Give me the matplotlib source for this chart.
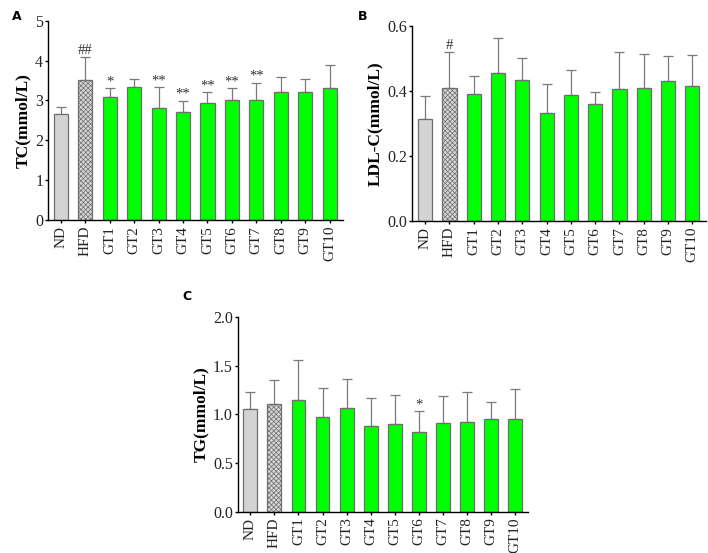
import matplotlib.pyplot as plt
import numpy as np

plt.rcParams['font.family'] = ['Liberation Serif', 'DejaVu Serif']
plt.rcParams['hatch.color'] = '#a8a8a8'
plt.rcParams['hatch.linewidth'] = 0.5

groups = ['ND', 'HFD', 'GT1', 'GT2', 'GT3', 'GT4', 'GT5', 'GT6', 'GT7', 'GT8', 'GT9', 'GT10']

tc_mean = [2.65, 3.51, 3.08, 3.34, 2.81, 2.70, 2.94, 3.01, 3.00, 3.20, 3.21, 3.30]
tc_top = [2.83, 4.08, 3.30, 3.54, 3.33, 2.99, 3.20, 3.30, 3.44, 3.60, 3.55, 3.88]
tc_marks = ['', '##', '*', '', '**', '**', '**', '**', '**', '', '', '']

ldl_mean = [0.314, 0.408, 0.391, 0.456, 0.433, 0.332, 0.389, 0.360, 0.406, 0.408, 0.430, 0.416]
ldl_top = [0.386, 0.519, 0.445, 0.562, 0.501, 0.421, 0.464, 0.396, 0.519, 0.513, 0.508, 0.511]
ldl_marks = ['', '#', '', '', '', '', '', '', '', '', '', '']

tg_mean = [1.051, 1.102, 1.143, 0.969, 1.068, 0.884, 0.898, 0.816, 0.911, 0.918, 0.949, 0.949]
tg_top = [1.232, 1.348, 1.560, 1.273, 1.358, 1.171, 1.195, 1.031, 1.184, 1.229, 1.123, 1.256]
tg_marks = ['', '', '', '', '', '', '', '*', '', '', '', '']


def draw_panel(ax, means, tops, marks, ylabel, ymax, yticks, fmt, mark_pad):
    x = np.arange(len(groups))
    err = np.array(tops) - np.array(means)
    face = ['#d3d3d3', '#d6d6d6'] + ['#00ff00'] * (len(groups) - 2)
    bars = ax.bar(x, means, width=0.58, color=face, edgecolor='#6e6e6e', linewidth=0.9, zorder=2)
    bars[1].set_hatch('xxxxxxx')
    ax.errorbar(x, means, yerr=[np.zeros_like(err), err], fmt='none', ecolor='#7a7a7a',
                elinewidth=0.9, capsize=3.5, capthick=0.9, zorder=1)
    for xi, top, m in zip(x, tops, marks):
        if m:
            ax.text(xi, top + mark_pad, m, ha='center', va='bottom', fontsize=10.5, color='#333333')
    ax.set_xlim(-0.53, 11.55)
    ax.set_ylim(0, ymax)
    ax.set_yticks(yticks)
    ax.set_yticklabels([fmt.format(v) for v in yticks], fontsize=11.5, color='#222222')
    ax.set_xticks(x)
    ax.set_xticklabels(groups, rotation=90, fontsize=11, color='#222222')
    ax.set_ylabel(ylabel, fontsize=12.5, fontweight='bold', labelpad=3)
    ax.spines['top'].set_visible(False)
    ax.spines['right'].set_visible(False)
    ax.spines['left'].set_linewidth(1.0)
    ax.spines['bottom'].set_linewidth(1.0)
    ax.tick_params(axis='y', length=2.5, width=1.0, pad=1)
    ax.tick_params(axis='x', length=2, width=1.0, pad=2)


fig = plt.figure(figsize=(7.08, 5.53), dpi=100)

ax_a = fig.add_axes([0.0678, 0.602, 0.4167, 0.3606])
draw_panel(ax_a, tc_mean, tc_top, tc_marks, 'TC(mmol/L)', 5, [0, 1, 2, 3, 4, 5], '{:g}', 0.0)

ax_b = fig.add_axes([0.5824, 0.5998, 0.4143, 0.3532])
draw_panel(ax_b, ldl_mean, ldl_top, ldl_marks, 'LDL-C(mmol/L)', 0.6, [0, 0.2, 0.4, 0.6], '{:.1f}', 0.0)

ax_c = fig.add_axes([0.3357, 0.0741, 0.4101, 0.3532])
draw_panel(ax_c, tg_mean, tg_top, tg_marks, 'TG(mmol/L)', 2.0, [0, 0.5, 1.0, 1.5, 2.0], '{:.1f}', 0.0)

for lbl, px, py in [('A', 0.017, 0.982), ('B', 0.506, 0.982), ('C', 0.258, 0.476)]:
    fig.text(px, py, lbl, fontsize=9, fontweight='bold', family='DejaVu Sans', ha='left', va='top')

fig.savefig('out.png', dpi=100)
